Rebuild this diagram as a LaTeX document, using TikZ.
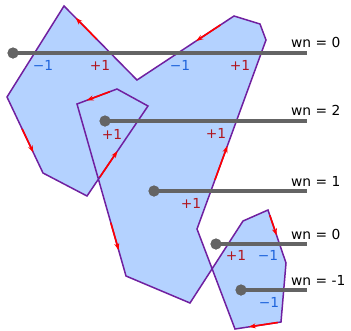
\documentclass[tikz,border=0pt]{standalone}
\usepackage{fontspec}
\setmainfont{DejaVu Sans}
\usetikzlibrary{arrows.meta,calc}
\definecolor{polyfill}{RGB}{180,210,255}
\definecolor{polyline}{RGB}{112,32,160}
\definecolor{raygray}{RGB}{100,100,100}
\definecolor{plusred}{RGB}{176,22,30}
\definecolor{minusblue}{RGB}{30,100,220}
\begin{document}
\begin{tikzpicture}[x=1pt,y=-1pt,
  poly/.style={fill=polyfill,draw=polyline,line width=1.5pt,line join=miter},
  dirarrow/.style={draw=red,line width=1.6pt,-{Stealth[length=7pt,width=5pt]}},
  ray/.style={draw=raygray,line width=3.5pt},
  dot/.style={circle,fill=raygray,inner sep=0pt,minimum size=11pt},
  pluslbl/.style={text=plusred,font=\fontsize{13.8}{16}\selectfont,anchor=base,inner sep=0pt},
  minuslbl/.style={text=minusblue,font=\fontsize{13.8}{16}\selectfont,anchor=base,inner sep=0pt},
  wnlbl/.style={text=black,font=\fontsize{13.8}{16}\selectfont,anchor=base west,inner sep=0pt}]
\useasboundingbox (0,0) rectangle (351,330);
% polygon vertices
\coordinate (p1) at (197,229);
\coordinate (p2) at (266,40);
\coordinate (p3) at (260,24);
\coordinate (p4) at (234,16);
\coordinate (p5) at (137,80);
\coordinate (p6) at (64,6);
\coordinate (p7) at (7,97);
\coordinate (p8) at (43,173);
\coordinate (p9) at (87,196);
\coordinate (p10) at (148,106);
\coordinate (p11) at (117,89);
\coordinate (p12) at (77,104);
\coordinate (p13) at (126,276);
\coordinate (p14) at (190,303);
\coordinate (p15) at (243,221);
\coordinate (p16) at (268,210);
\coordinate (p17) at (286,263);
\coordinate (p18) at (281,322);
\coordinate (p19) at (235,329);
\path[poly] (p1) -- (p2) -- (p3) -- (p4) -- (p5) -- (p6) -- (p7) -- (p8) -- (p9)
  -- (p10) -- (p11) -- (p12) -- (p13) -- (p14) -- (p15) -- (p16) -- (p17) -- (p18)
  -- (p19) -- cycle;
% direction arrows
\draw[dirarrow] ($(p5)!0.55!(p6)$) -- ($(p5)!0.84!(p6)$);
\draw[dirarrow] ($(p4)!0.14!(p5)$) -- ($(p4)!0.39!(p5)$);
\draw[dirarrow] ($(p7)!0.42!(p8)$) -- ($(p7)!0.73!(p8)$);
\draw[dirarrow] ($(p9)!0.21!(p10)$) -- ($(p9)!0.50!(p10)$);
\draw[dirarrow] ($(p11)!0.18!(p12)$) -- ($(p11)!0.76!(p12)$);
\draw[dirarrow] ($(p12)!0.69!(p13)$) -- ($(p12)!0.85!(p13)$);
\draw[dirarrow] ($(p16)!0.10!(p17)$) -- ($(p16)!0.48!(p17)$);
\draw[dirarrow] ($(p18)!0.07!(p19)$) -- ($(p18)!0.70!(p19)$);
\draw[dirarrow] ($(p1)!0.26!(p2)$) -- ($(p1)!0.44!(p2)$);
% rays
\coordinate (e1) at (307,53);
\coordinate (e2) at (307,121);
\coordinate (e3) at (307,191);
\coordinate (e4) at (307,244);
\coordinate (e5) at (307,290);
\node[dot] (d1) at (13,53) {};
\node[dot] (d2) at (105,121) {};
\node[dot] (d3) at (154,191) {};
\node[dot] (d4) at (216,244) {};
\node[dot] (d5) at (241,290) {};
\draw[ray] (d1.center) -- (e1);
\draw[ray] (d2.center) -- (e2);
\draw[ray] (d3.center) -- (e3);
\draw[ray] (d4.center) -- (e4);
\draw[ray] (d5.center) -- (e5);
\node[dot] at (d1) {};
\node[dot] at (d2) {};
\node[dot] at (d3) {};
\node[dot] at (d4) {};
\node[dot] at (d5) {};
% crossing labels
\node[minuslbl] (c1) at (43,70) {−1};
\node[pluslbl] (c2) at (100,70) {+1};
\node[minuslbl] (c3) at (180,70) {−1};
\node[pluslbl] (c4) at (240,70) {+1};
\node[pluslbl] (c5) at (112,139) {+1};
\node[pluslbl] (c6) at (216,138) {+1};
\node[pluslbl] (c7) at (191,208) {+1};
\node[pluslbl] (c8) at (236,260) {+1};
\node[minuslbl] (c9) at (268,260) {−1};
\node[minuslbl] (c10) at (269,307) {−1};
% winding number labels
\node[wnlbl] (w1) at (291,47) {wn = 0};
\node[wnlbl] (w2) at (291,115) {wn = 2};
\node[wnlbl] (w3) at (291,186) {wn = 1};
\node[wnlbl] (w4) at (291,239) {wn = 0};
\node[wnlbl] (w5) at (291,285) {wn = -1};
\end{tikzpicture}
\end{document}
